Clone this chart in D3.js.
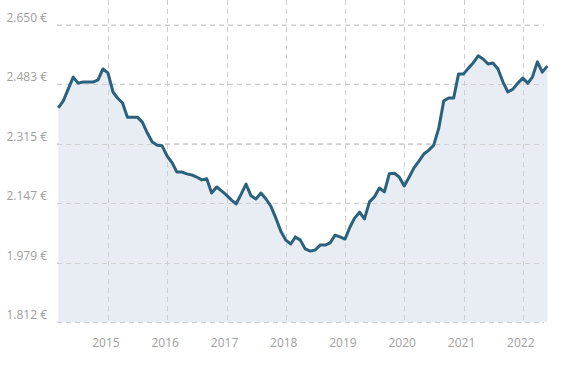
<!DOCTYPE html>
<html><head><meta charset="utf-8">
<script src="https://cdn.jsdelivr.net/npm/d3@7"></script>
<style>body{margin:0;background:#fff}svg{display:block}</style>
</head><body><svg id="c" width="564" height="365"></svg>
<script>
const startMonth = "2014-03";
const values = [2416,2436,2469,2503,2486,2489,2489,2489,2495,2526,2515,2461,2444,2430,2390,2390,2390,2376,2345,2320,2311,2309,2280,2261,2235,2235,2230,2227,2221,2213,2216,2176,2193,2182,2170,2156,2145,2173,2201,2168,2159,2176,2159,2139,2105,2069,2043,2032,2052,2043,2018,2012,2015,2029,2029,2035,2057,2052,2046,2080,2105,2122,2103,2151,2165,2190,2179,2230,2232,2221,2196,2221,2247,2266,2286,2297,2311,2359,2436,2444,2444,2512,2512,2529,2543,2563,2554,2540,2543,2526,2489,2461,2469,2486,2500,2486,2503,2546,2517,2534];
const yTicks = [1812,1979,2147,2315,2483,2650];
const xTickYears = [2015,2016,2017,2018,2019,2020,2021,2022];

const svg = d3.select("#c");
const m = {l:58, r:17, t:25, b:43};
const W = 564, H = 365;
const x0 = d3.timeParse("%Y-%m")(startMonth);
const dates = values.map((v,i)=>d3.timeMonth.offset(x0,i));
const x = d3.scaleTime().domain([dates[0], dates[dates.length-1]]).range([58.3, 547.3]);
const y = d3.scaleLinear().domain([1812,2650]).range([322,25]);
const loc = d3.formatLocale({decimal:",",thousands:".",grouping:[3],currency:["","\u00a0€"]});
const fmt = loc.format("$,.0f");

const font = "'Open Sans', 'Segoe UI', sans-serif";
// horizontal grid
svg.append("g").selectAll("line").data(yTicks).join("line")
  .attr("x1",57).attr("x2",544).attr("y1",d=>y(d)).attr("y2",d=>y(d))
  .attr("stroke","#cfcfcf").attr("stroke-width",1).attr("stroke-dasharray","5,4");
// area
const data = values.map((v,i)=>({d:dates[i],v}));
svg.append("path").datum(data)
  .attr("d", d3.area().x(p=>x(p.d)).y0(322).y1(p=>y(p.v)))
  .attr("fill","#e8edf3");
// vertical grid
const yearDates = xTickYears.map(yr=>new Date(yr,0,1));
svg.append("g").selectAll("line").data(yearDates).join("line")
  .attr("x1",d=>Math.round(x(d))+0.5).attr("x2",d=>Math.round(x(d))+0.5).attr("y1",0).attr("y2",322)
  .attr("stroke","#cfcfcf").attr("stroke-width",1).attr("stroke-dasharray","5,4");
// redraw horizontal over area
svg.append("g").selectAll("line").data(yTicks).join("line")
  .attr("x1",57).attr("x2",544).attr("y1",d=>Math.round(y(d))+0.5).attr("y2",d=>Math.round(y(d))+0.5)
  .attr("stroke","#cfcfcf").attr("stroke-width",1).attr("stroke-dasharray","5,4");
// line
svg.append("path").datum(data)
  .attr("d", d3.line().x(p=>x(p.d)).y(p=>y(p.v)))
  .attr("fill","none").attr("stroke","#2a617d").attr("stroke-width",3).attr("stroke-linejoin","round");
// y labels
svg.append("g").selectAll("text").data(yTicks).join("text")
  .attr("x",47).attr("y",d=>y(d)-7).attr("dy","0.35em").attr("text-anchor","end")
  .attr("font-family",font).attr("font-size",12).attr("fill","#a0a0a0").text(d=>fmt(d));
// x labels
svg.append("g").selectAll("text").data(yearDates).join("text")
  .attr("x",d=>x(d)-2).attr("y",343).attr("dy","0.35em").attr("text-anchor","middle")
  .attr("font-family",font).attr("font-size",12).attr("fill","#a0a0a0").text(d=>d3.timeFormat("%Y")(d));
</script></body></html>
